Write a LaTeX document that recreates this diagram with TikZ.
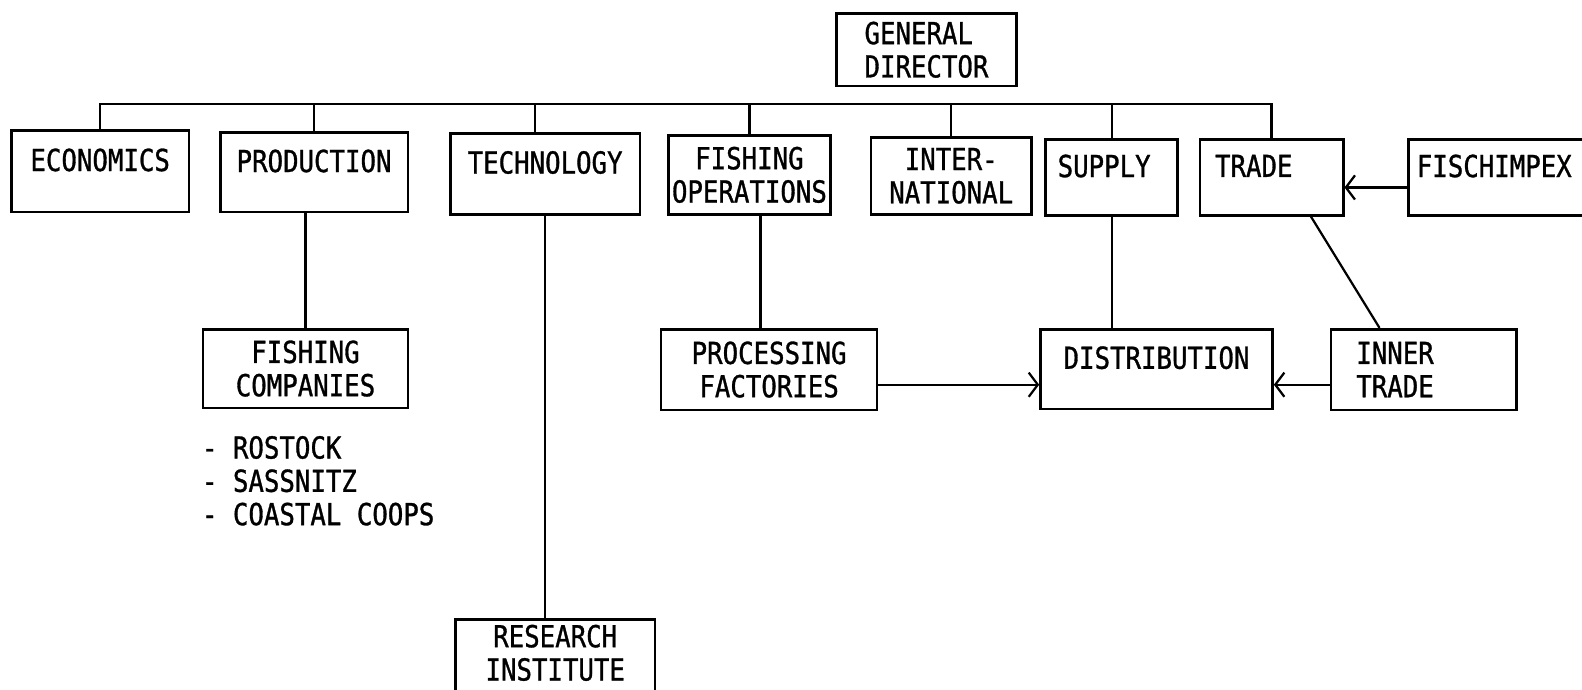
\documentclass[tikz,border=0pt]{standalone}
\usepackage{fontspec}
\newfontfamily\orgfont[FakeStretch=0.85, FakeBold=1]{DejaVu Sans Mono}
\usetikzlibrary{arrows.meta}
\begin{document}
\begin{tikzpicture}[x=1pt, y=-1pt,
  unit/.style={draw, line width=2.6pt, inner sep=0pt, anchor=north west, align=center,
    font=\orgfont\fontsize{30}{33}\selectfont},
  link/.style={line width=2.2pt},
  flow/.style={line width=2.2pt, -{Straight Barb[length=9pt, width=24pt, line width=2.2pt]}},
  txt/.style={inner sep=0pt, anchor=north west, align=left, font=\orgfont\fontsize{30}{33}\selectfont}]
\useasboundingbox (0,0) rectangle (1568,683);
\coordinate (bus) at (0,103);
\node[unit, minimum width=178pt, minimum height=72pt, align=left] (gd) at (828,12){GENERAL\\DIRECTOR};
\node[unit, minimum width=176pt, minimum height=81pt] (econ) at (10,128){ECONOMICS\\[-20pt]\strut};
\node[unit, minimum width=186pt, minimum height=79pt] (prod) at (217,130){PRODUCTION\\[-20pt]\strut};
\node[unit, minimum width=188pt, minimum height=80pt] (tech) at (445,131){TECHNOLOGY\\[-20pt]\strut};
\node[unit, minimum width=161pt, minimum height=78pt] (fishop) at (661,133){FISHING\\OPERATIONS};
\node[unit, minimum width=159pt, minimum height=76pt] (intl) at (862,135){INTER-\\NATIONAL};
\node[unit, minimum width=131pt, minimum height=75pt, inner xsep=12pt, text width=107pt, align=left] (supply) at (1035,137){SUPPLY\\[-20pt]\strut};
\node[unit, minimum width=142pt, minimum height=75pt, inner xsep=15pt, text width=112pt, align=left] (trade) at (1188,137){TRADE\\[-20pt]\strut};
\node[unit, minimum width=185pt, minimum height=75pt, inner xsep=8pt, text width=169pt, align=left] (fisch) at (1395,137){FISCHIMPEX\\[-20pt]\strut};
\draw[link] (econ.north) |- (trade.north |- bus) -- (trade.north);
\draw[link] (prod.north) -- (prod.north |- bus);
\draw[link] ([xshift=-10pt]tech.north) -- ([xshift=-10pt]tech.north |- bus);
\draw[link] (fishop.north) -- (fishop.north |- bus);
\draw[link] (intl.north) -- (intl.north |- bus);
\draw[link] (supply.north) -- (supply.north |- bus);
\node[unit, minimum width=203pt, minimum height=78pt] (fishco) at (200,325){FISHING\\COMPANIES};
\node[txt] (ports) at (200,432){- ROSTOCK\\- SASSNITZ\\- COASTAL COOPS};
\draw[link] (fishco.north) -- (fishco.north |- prod.south);
\node[unit, minimum width=198pt, minimum height=108pt] (research) at (450,613){RESEARCH\\INSTITUTE\\\strut};
\draw[link] (tech.south) -- (tech.south |- research.north);
\node[unit, minimum width=214pt, minimum height=80pt] (proc) at (654,325){PROCESSING\\FACTORIES};
\draw[link] ([xshift=11pt]fishop.south) -- ([xshift=11pt]fishop.south |- proc.north);
\node[unit, minimum width=230pt, minimum height=79pt] (dist) at (1030,325){DISTRIBUTION\\[-20pt]\strut};
\draw[link] (supply.south) -- (supply.south |- dist.north);
\node[unit, minimum width=184pt, minimum height=80pt, inner xsep=25pt, text width=134pt, align=left] (inner) at (1318,325){INNER\\TRADE};
\draw[link] ([xshift=39pt]trade.south) -- ([xshift=-44pt]inner.north);
\draw[flow] ([yshift=-15pt]proc.east) -- ([yshift=-15pt]proc.east -| dist.west);
\draw[flow] ([yshift=-15pt]inner.west) -- ([yshift=-15pt]inner.west -| dist.east);
\draw[flow] ([yshift=-10pt]fisch.west) -- ([yshift=-10pt]fisch.west -| trade.east);
\end{tikzpicture}
\end{document}
